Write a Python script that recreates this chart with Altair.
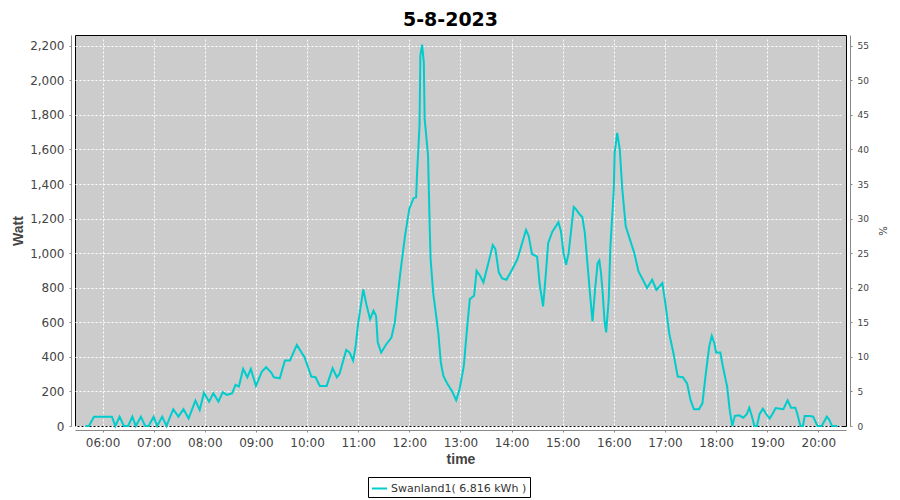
import altair as alt
import pandas as pd

# ---- data ----
times = [
    "05:40", "05:44", "05:50", "06:11", "06:15", "06:20", "06:25", "06:30", "06:35", "06:39",
    "06:45", "06:50", "06:54", "07:00", "07:04", "07:10", "07:15", "07:23", "07:29", "07:35",
    "07:41", "07:49", "07:54", "07:59", "08:05", "08:10", "08:16", "08:21", "08:26", "08:32",
    "08:36", "08:40", "08:45", "08:50", "08:54", "09:00", "09:07", "09:12", "09:18", "09:21",
    "09:28", "09:34", "09:40", "09:48", "09:57", "10:05", "10:10", "10:15", "10:23", "10:30",
    "10:35", "10:38", "10:46", "10:50", "10:54", "10:57", "11:00", "11:06", "11:10", "11:14",
    "11:18", "11:21", "11:23", "11:27", "11:33", "11:39", "11:43", "11:49", "11:55", "12:00",
    "12:05", "12:08", "12:09", "12:12", "12:13", "12:15", "12:17", "12:18", "12:22", "12:24",
    "12:25", "12:28", "12:30", "12:34", "12:37", "12:40", "12:45", "12:50", "12:55", "12:59",
    "13:04", "13:07", "13:11", "13:16", "13:19", "13:23", "13:27", "13:33", "13:38", "13:41",
    "13:45", "13:49", "13:54", "14:01", "14:07", "14:11", "14:17", "14:20", "14:24", "14:30",
    "14:33", "14:37", "14:40", "14:43", "14:48", "14:52", "14:55", "14:58", "15:01", "15:04",
    "15:07", "15:10", "15:13", "15:16", "15:20", "15:23", "15:26", "15:30", "15:32", "15:35",
    "15:38", "15:41", "15:43", "15:45", "15:47", "15:49", "15:51", "15:54", "15:56", "16:00",
    "16:01", "16:04", "16:07", "16:10", "16:14", "16:19", "16:24", "16:29", "16:35", "16:39",
    "16:45", "16:50", "16:57", "17:01", "17:05", "17:10", "17:15", "17:21", "17:26", "17:30",
    "17:34", "17:40", "17:44", "17:48", "17:52", "17:55", "17:58", "18:00", "18:05", "18:08",
    "18:13", "18:16", "18:19", "18:22", "18:27", "18:32", "18:36", "18:39", "18:42", "18:45",
    "18:48", "18:51", "18:55", "18:59", "19:03", "19:06", "19:10", "19:15", "19:19", "19:24",
    "19:28", "19:33", "19:35", "19:39", "19:42", "19:44", "19:50", "19:54", "19:59", "20:04",
    "20:10", "20:13", "20:16", "20:22",
]
watts = [
    0, 0, 54, 54, 0, 54, 0, 0, 54, 0,
    54, 0, 0, 54, 0, 54, 0, 97, 54, 97,
    44, 147, 93, 193, 141, 189, 141, 195, 180, 189,
    238, 228, 330, 282, 330, 232, 315, 340, 309, 282,
    276, 379, 379, 469, 398, 286, 282, 232, 232, 334,
    282, 301, 440, 425, 379, 460, 595, 790, 695, 618,
    667, 637, 483, 425, 473, 512, 599, 869, 1101, 1256,
    1318, 1323, 1449, 1739, 2145, 2206, 2106, 1777, 1565, 1140,
    966, 773, 695, 541, 367, 290, 241, 203, 149, 213,
    348, 522, 734, 753, 898, 869, 831, 947, 1047, 1024,
    889, 854, 846, 908, 966, 1034, 1134, 1101, 995, 980,
    820, 692, 866, 1059, 1126, 1155, 1179, 1126, 1001, 933,
    1001, 1136, 1267, 1252, 1223, 1209, 1117, 885, 769, 605,
    788, 943, 958, 885, 769, 614, 541, 730, 1039, 1368,
    1580, 1696, 1600, 1368, 1155, 1078, 1001, 894, 837, 798,
    846, 788, 827, 692, 537, 421, 286, 282, 247, 151,
    97, 97, 131, 305, 460, 522, 479, 425, 425, 344,
    228, 93, 0, 58, 62, 48, 68, 106, 58, 0,
    0, 68, 100, 68, 43, 68, 104, 100, 97, 149,
    106, 106, 77, 0, 0, 58, 58, 54, 0, 0,
    54, 35, 0, 0,
]
series_name = "Swanland1( 6.816 kWh )"
chart_title = "5-8-2023"
watt_ticks = list(range(0, 2201, 200))
pct_ticks = list(range(0, 56, 5))
hour_ticks = list(range(6, 21))

df = pd.DataFrame({
    "time": pd.to_datetime(["2023-08-05 " + t for t in times]),
    "watt": watts,
    "series": series_name,
})

def dt(h, m=0, s=0):
    return alt.DateTime(year=2023, month=8, date=5, hours=h, minutes=m, seconds=s)

FONT = "DejaVu Sans"
TFONT = "Liberation Sans"
GRID = dict(grid=True, gridColor="white", gridDash=[2, 2], gridWidth=1, gridOpacity=1)

x_enc = alt.X(
    "time:T",
    scale=alt.Scale(domain=[dt(5, 27, 40), dt(20, 32, 30)]),
    axis=alt.Axis(
        title="time", format="%H:%M", values=[dt(h) for h in hour_ticks],
        labelFontSize=12, titleFontSize=14, titlePadding=4, **GRID,
    ),
)

line = alt.Chart(df).mark_line(strokeWidth=2, interpolate="linear").encode(
    x=x_enc,
    y=alt.Y(
        "watt:Q",
        scale=alt.Scale(domain=[0, 2262], nice=False, zero=True),
        axis=alt.Axis(
            title="Watt", values=watt_ticks, format=",d", orient="left",
            labelFontSize=12, titleFontSize=14, titlePadding=4, **GRID,
        ),
    ),
    color=alt.Color(
        "series:N",
        scale=alt.Scale(range=["#00CCCC"]),
        legend=alt.Legend(
            title=None, orient="none", legendX=293, legendY=442,
            symbolType="stroke", symbolStrokeWidth=2, symbolSize=225,
            strokeColor="black", fillColor="white", padding=3,
            labelFont=FONT, labelFontSize=11, labelColor="#333333", labelOffset=3,
        ),
    ),
)

pct_layer = alt.Chart(df).transform_calculate(
    pct="datum.watt / 40"
).mark_line(opacity=0).encode(
    x=alt.X("time:T", scale=alt.Scale(domain=[dt(5, 27, 40), dt(20, 32, 30)])),
    y=alt.Y(
        "pct:Q",
        scale=alt.Scale(domain=[0, 56.55], nice=False, zero=True),
        axis=alt.Axis(
            title="%", values=pct_ticks, orient="right", grid=False,
            labelFontSize=9, titleFont=FONT, titleFontSize=10, titleFontWeight="normal",
            titleColor="#333333", titlePadding=8,
        ),
    ),
)

chart = alt.layer(line, pct_layer).resolve_scale(y="independent").properties(
    width=771,
    height=391,
    autosize=alt.AutoSizeParams(type="none"),
    padding={"left": 67, "top": 27, "right": 46, "bottom": 73},
    title=alt.TitleParams(
        chart_title, font=FONT, fontSize=19, fontWeight="bold", color="black",
        anchor="middle", dx=-10, offset=5,
    ),
).configure(
    background="white",
).configure_view(
    fill="#CCCCCC", stroke="black", strokeWidth=1,
).configure_axis(
    labelFont=FONT, titleFont=TFONT, labelColor="#444444", titleColor="#444444",
    titleFontWeight="bold", domainColor="#888888", tickColor="#888888",
    tickSize=2, labelPadding=5, offset=4,
)

chart.save("out.html", embed_options={"renderer": "svg", "actions": False})
